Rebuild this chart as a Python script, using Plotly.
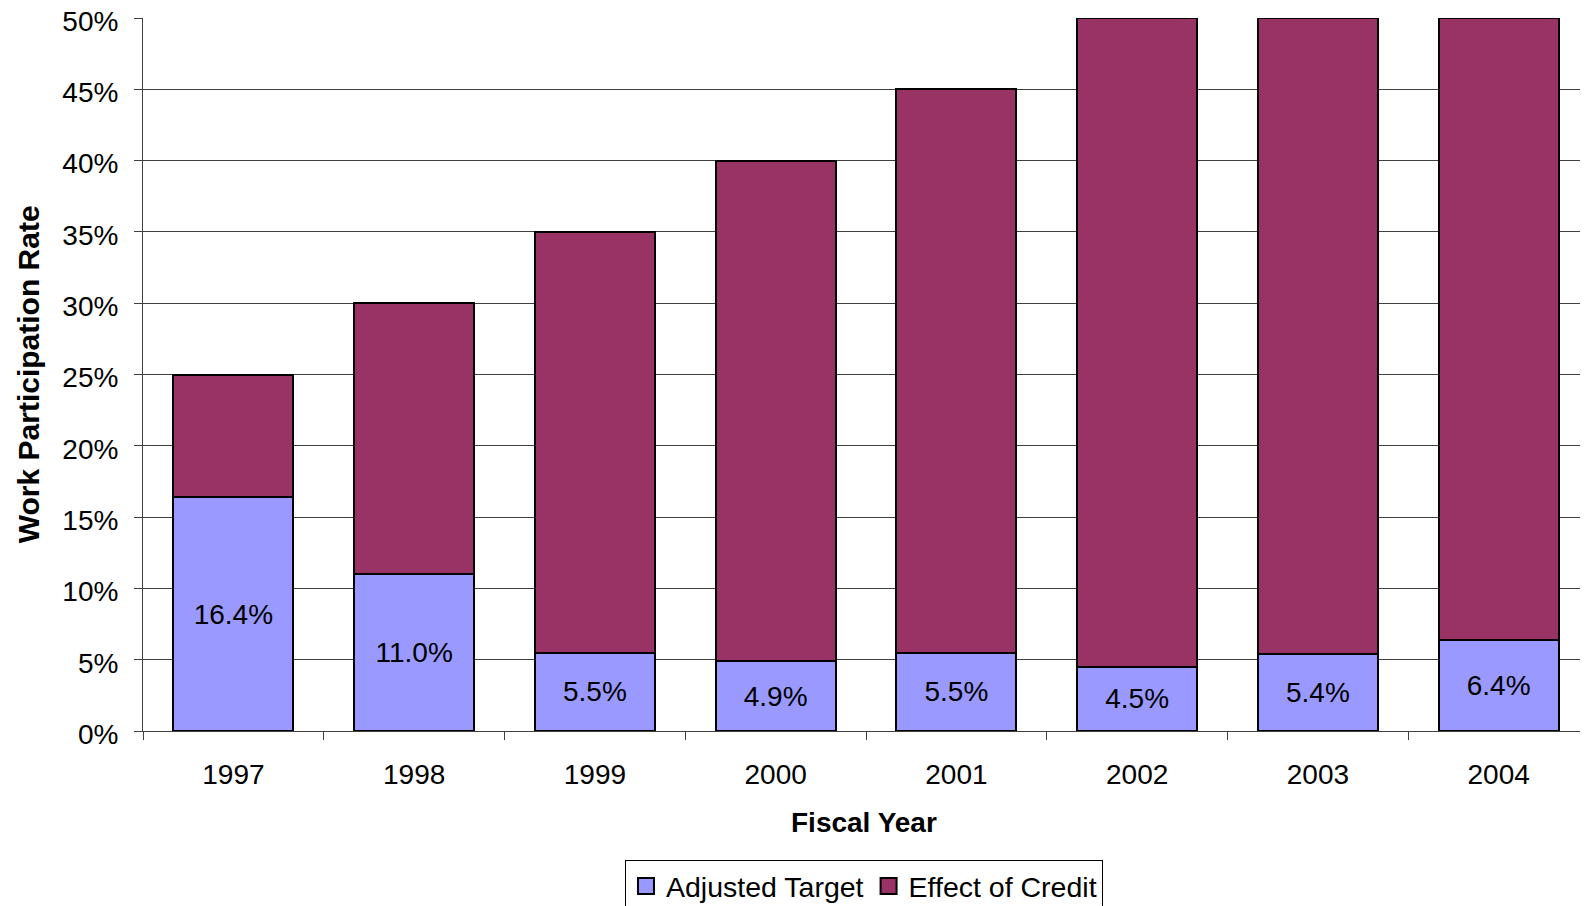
import plotly.graph_objects as go

years = ["1997", "1998", "1999", "2000", "2001", "2002", "2003", "2004"]
adjusted_target = [16.4, 11.0, 5.5, 4.9, 5.5, 4.5, 5.4, 6.4]
effect_of_credit = [8.6, 19.0, 29.5, 35.1, 39.5, 45.5, 44.6, 43.6]
adjusted_labels = ["16.4%", "11.0%", "5.5%", "4.9%", "5.5%", "4.5%", "5.4%", "6.4%"]
series_names = ["Adjusted Target", "Effect of Credit"]
series_colors = ["#9999FF", "#993366"]

FONT = "Liberation Sans, Arial, sans-serif"

fig = go.Figure()
fig.add_trace(go.Bar(
    x=years, y=adjusted_target, name=series_names[0], showlegend=False,
    marker=dict(color=series_colors[0], line=dict(color="black", width=2)),
    text=adjusted_labels, textposition="inside", insidetextanchor="middle",
    textfont=dict(size=28, color="black", family=FONT),
    constraintext="none", hoverinfo="skip",
))
fig.add_trace(go.Bar(
    x=years, y=effect_of_credit, name=series_names[1], showlegend=False,
    marker=dict(color=series_colors[1], line=dict(color="black", width=2)),
    hoverinfo="skip",
))
# legend swatches (larger outlined squares like the original)
for name, col in zip(series_names, series_colors):
    fig.add_trace(go.Scatter(
        x=[None], y=[None], mode="markers", name=name,
        marker=dict(symbol="square", size=19, color=col, line=dict(color="black", width=2)),
        hoverinfo="skip",
    ))

fig.update_layout(
    barmode="stack", bargap=0.335,
    width=1600, height=910,
    margin=dict(l=135, r=19, t=10, b=187, autoexpand=False),
    paper_bgcolor="white", plot_bgcolor="white",
    font=dict(family=FONT, size=28, color="black"),
    showlegend=True,
    legend=dict(
        orientation="h", traceorder="normal",
        x=0.4986, xanchor="center", y=-0.181, yanchor="top",
        bordercolor="black", borderwidth=1, font=dict(size=28.5),
        itemwidth=30, tracegroupgap=0,
    ),
    xaxis=dict(
        type="category", tickson="boundaries", ticks="outside", ticklen=8,
        tickcolor="#404040", showline=True, linecolor="#404040", linewidth=1,
        showgrid=False, automargin=False, ticklabelstandoff=18,
        tickfont=dict(size=28),
    ),
    yaxis=dict(
        range=[0, 50], dtick=5, ticksuffix="%", ticks="outside", ticklen=8,
        tickcolor="#404040", showline=True, linecolor="#404040", linewidth=1,
        showgrid=True, gridcolor="#404040", gridwidth=1, zeroline=False,
        automargin=False, ticklabelstandoff=10, ticklabelshift=3,
        ticklabeloverflow="allow",
        tickfont=dict(size=28),
    ),
    annotations=[
        dict(text="<b>Fiscal Year</b>", xref="paper", yref="paper",
             x=0.4986, y=-0.128, xanchor="center", yanchor="middle",
             showarrow=False, font=dict(size=28)),
        dict(text="<b>Work Participation Rate</b>", xref="paper", yref="paper",
             x=-0.079, y=0.5, xanchor="center", yanchor="middle", textangle=-90,
             showarrow=False, font=dict(size=30)),
    ],
)

fig.write_html("out.html")
